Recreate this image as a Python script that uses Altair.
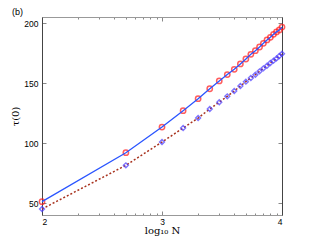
import altair as alt
import pandas as pd

# ---- data ----
N = [100, 500, 1000, 1500, 2000, 2500, 3000, 3500, 4000, 4500, 5000,
     5500, 6000, 6500, 7000, 7500, 8000, 8500, 9000, 9500, 10000]
tau_circle = [51.1, 91.9, 113.3, 126.9, 136.9, 145.2, 151.7, 157.0, 161.4, 165.9, 170.0,
              173.9, 176.9, 180.0, 183.1, 185.9, 188.1, 190.6, 192.6, 194.2, 196.6]
tau_diamond = [45.0, 81.4, 100.8, 112.5, 120.8, 128.3, 134.0, 138.9, 143.3, 147.5, 151.1,
               154.2, 156.9, 159.7, 162.2, 164.4, 166.7, 168.6, 170.5, 172.5, 174.4]

x_major = [100, 1000, 10000]
x_minor = [200, 300, 400, 500, 600, 700, 800, 900,
           2000, 3000, 4000, 5000, 6000, 7000, 8000, 9000]
y_major = [50, 100, 150, 200]

df = pd.DataFrame({"N": N, "c": tau_circle, "d": tau_diamond})

W, H = 240, 198
xs = alt.Scale(type="log", domain=[100, 10000], nice=False)
ys = alt.Scale(domain=[40, 205], nice=False, zero=False)

SANS = "Liberation Sans"
SERIF = "DejaVu Serif"
DARK = "#444444"
LIGHT = "#999999"
TICK = "#888888"
major_test = "indexof([100, 1000, 10000], datum.value) >= 0"
tick_cond = {"condition": {"test": major_test, "value": 4}, "value": 2}

base = alt.Chart(df)

# solid blue line through red circles (main axes: bottom + left with labels)
line_blue = base.mark_line(color="#2a55ff", strokeWidth=1.3).encode(
    x=alt.X("N:Q", scale=xs, title="log₁₀ N",
            axis=alt.Axis(values=x_major, labelExpr="'' + round(log(datum.value) / LN10)",
                          ticks=False, grid=False, domainColor=LIGHT,
                          labelFont=SANS, labelFontSize=8.5, labelColor="#000",
                          labelPadding=2, titleFont=SERIF, titleFontSize=10,
                          titleFontWeight="normal", titleColor="#000",
                          titleX=W / 2, titleY=18.5, titleBaseline="alphabetic",
                          titleAlign="center")),
    y=alt.Y("c:Q", scale=ys, title="τ(0)",
            axis=alt.Axis(values=y_major, ticks=False, grid=False, domainColor=DARK,
                          labelFont=SANS, labelFontSize=8.5, labelColor="#000",
                          labelPadding=4, titleFont=SERIF, titleFontSize=10,
                          titleFontWeight="normal", titleColor="#000",
                          titleX=-27, titleY=H / 2, titleBaseline="middle",
                          titleAlign="center", titleAngle=270)),
)

# red circles (inward ticks on bottom and left)
circles = base.mark_point(shape="circle", filled=False, color="#ff1a1a",
                          size=28, strokeWidth=1.5).encode(
    x=alt.X("N:Q", scale=xs, title="",
            axis=alt.Axis(orient="top", offset=-H, values=x_major + x_minor,
                          labels=False, domain=False, grid=False,
                          tickColor=TICK, tickSize=tick_cond)),
    y=alt.Y("c:Q", scale=ys, title="",
            axis=alt.Axis(orient="right", offset=-W, values=y_major,
                          labels=False, domain=False, grid=False,
                          tickColor=TICK, tickSize=4)),
)

# dashed dark-red line through blue diamonds (frame top + right, inward ticks)
line_red = base.mark_line(color="#a8321e", strokeWidth=1.5, strokeDash=[2, 2]).encode(
    x=alt.X("N:Q", scale=xs, title="",
            axis=alt.Axis(orient="bottom", offset=-H, values=x_major + x_minor,
                          labels=False, grid=False, domainColor=LIGHT,
                          tickColor=TICK, tickSize=tick_cond)),
    y=alt.Y("d:Q", scale=ys, title="",
            axis=alt.Axis(orient="left", offset=-W, values=y_major,
                          labels=False, grid=False, domainColor=DARK,
                          tickColor=TICK, tickSize=4)),
)

diamonds = base.mark_point(shape="diamond", filled=False, color="#4a3cff",
                           size=24, strokeWidth=1.4).encode(
    x=alt.X("N:Q", scale=xs, axis=None),
    y=alt.Y("d:Q", scale=ys, axis=None),
)

chart = alt.layer(circles, line_blue, line_red, diamonds).resolve_axis(
    x="independent", y="independent"
).properties(
    width=W, height=H,
    autosize=alt.AutoSizeParams(type="none"),
    padding={"left": 34, "top": 9, "right": 22, "bottom": 25},
    title=alt.TitleParams("(b)", anchor="start", frame="group", font=SANS,
                          fontSize=9, fontWeight="normal", color="#000",
                          dx=-30, offset=0),
).configure_view(stroke=None).configure(background="white")

chart.save("out.html", embed_options={"renderer": "svg", "actions": False})
